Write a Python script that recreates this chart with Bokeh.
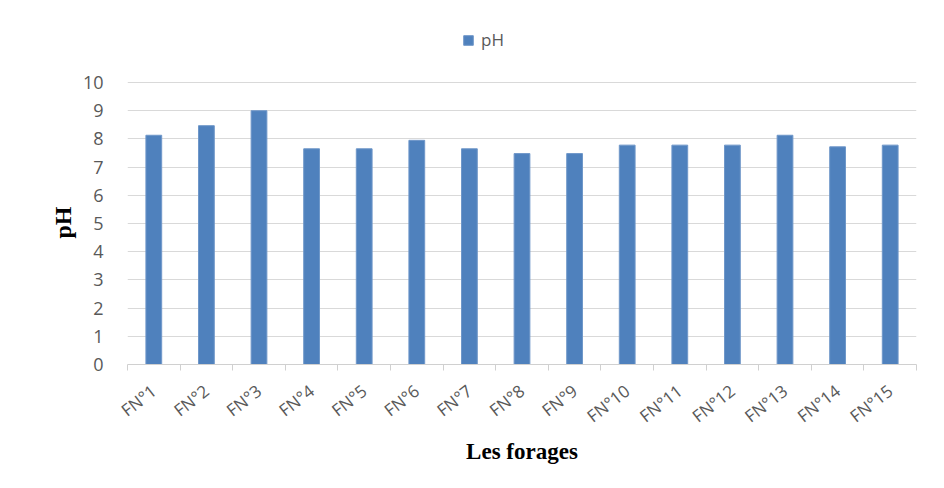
from bokeh.plotting import figure
from bokeh.models import FixedTicker, Legend, LegendItem, ColumnDataSource, Title
from bokeh.embed import file_html
from bokeh.resources import INLINE

categories = ["FN°1", "FN°2", "FN°3", "FN°4", "FN°5", "FN°6", "FN°7", "FN°8",
              "FN°9", "FN°10", "FN°11", "FN°12", "FN°13", "FN°14", "FN°15"]
ph_values = [8.13, 8.47, 9.0, 7.65, 7.65, 7.95, 7.65, 7.48, 7.48, 7.78, 7.78, 7.78, 8.13, 7.72, 7.78]
y_ticks = [0, 1, 2, 3, 4, 5, 6, 7, 8, 9, 10]

centers = [i + 0.5 for i in range(len(categories))]
bounds = [float(i) for i in range(len(categories) + 1)]

src = ColumnDataSource(data=dict(x=centers, top=ph_values, cat=categories))

# frame extends above the 10 gridline to host the legend (grid only drawn at ticks 0..10)
p = figure(width=928, height=472, output_backend="svg", toolbar_location=None,
           x_range=(0, len(categories)), y_range=(0, 12.2),
           min_border_left=127, min_border_right=12, min_border_top=20, min_border_bottom=108)
p.outline_line_color = None
p.background_fill_color = "white"
p.border_fill_color = "white"

r = p.vbar(x="x", top="top", width=0.3, source=src, fill_color="#4F81BD", line_color="#6f97c9", line_width=1)

# x axis
p.xaxis.ticker = FixedTicker(ticks=centers, minor_ticks=bounds)
p.xaxis.major_label_overrides = {c: lab for c, lab in zip(centers, categories)}
p.xaxis.major_tick_out = 0
p.xaxis.major_tick_in = 0
p.xaxis.minor_tick_out = 6
p.xaxis.minor_tick_in = 0
p.xaxis.minor_tick_line_color = "#d0d0d0"
p.xaxis.axis_line_color = "#d0d0d0"
p.xaxis.major_label_orientation = 0.66
p.xaxis.major_label_standoff = 18
p.xaxis.major_label_text_font = "Open Sans"
p.xaxis.major_label_text_font_size = "17px"
p.xaxis.major_label_text_color = "#595959"
p.xaxis.axis_label = "Les forages"
p.xaxis.axis_label_text_font = "Liberation Serif"
p.xaxis.axis_label_text_font_style = "bold"
p.xaxis.axis_label_text_font_size = "23px"
p.xaxis.axis_label_text_color = "#000000"
p.xaxis.axis_label_standoff = 0

# y axis
p.yaxis.ticker = FixedTicker(ticks=y_ticks)
p.yaxis.axis_line_color = None
p.yaxis.major_tick_line_color = None
p.yaxis.minor_tick_line_color = None
p.yaxis.major_label_standoff = 18
p.yaxis.major_label_text_font = "Open Sans"
p.yaxis.major_label_text_font_size = "18px"
p.yaxis.major_label_text_color = "#595959"

ytitle = Title(text="pH", align="left", offset=126, text_font="Liberation Serif",
               text_font_style="bold", text_font_size="24px", text_color="#000000",
               standoff=8)
p.add_layout(ytitle, "left")

p.xgrid.grid_line_color = None
p.ygrid.grid_line_color = "#d9d9d9"
p.ygrid.grid_line_width = 1

legend = Legend(items=[LegendItem(label="pH", renderers=[r])], location=(335, 313),
                orientation="horizontal", glyph_width=12, glyph_height=12,
                label_text_font="Open Sans", label_text_font_size="17px",
                label_text_color="#595959", label_standoff=7,
                border_line_color=None, background_fill_alpha=0, padding=2, margin=0)
p.add_layout(legend, "center")

open("out.html", "w").write(file_html(p, INLINE))
